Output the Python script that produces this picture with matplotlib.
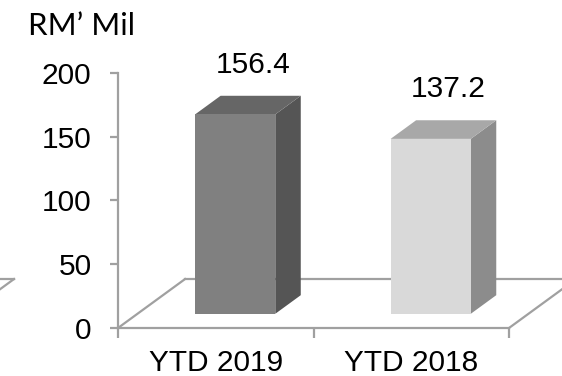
import matplotlib

matplotlib.use("Agg")
import matplotlib.pyplot as plt
from matplotlib.patches import Polygon

categories = ["YTD 2019", "YTD 2018"]
values = [156.4, 137.2]
y_ticks = [0, 50, 100, 150, 200]
unit_label = "RM\u2019 Mil"

front_colors = ["#808080", "#d9d9d9"]
side_colors = ["#555555", "#8c8c8c"]
top_colors = ["#666666", "#a8a8a8"]

# fake 3D: full floor depth expressed as a shift in data units
DEPTH_X = 0.343
DEPTH_Y = 38.4
BAR_D0, BAR_D1 = 0.29, 0.67
BAR_W = 0.41
LINE = "#a0a0a0"
FS = 21.5

plt.rcParams["font.family"] = ["Liberation Sans", "DejaVu Sans"]

fig = plt.figure(figsize=(5.62, 3.76), dpi=100)
ax = fig.add_axes([0, 0, 1, 1])
ax.set_xlim(-0.6036, 2.2711)
ax.set_ylim(-37.65, 257.25)

for side in ["top", "right"]:
    ax.spines[side].set_visible(False)
ax.spines["left"].set_position(("data", 0))
ax.spines["left"].set_bounds(0, 200)
ax.spines["bottom"].set_position(("data", 0))
ax.spines["bottom"].set_bounds(0, len(categories))
for side in ["left", "bottom"]:
    ax.spines[side].set_color(LINE)
    ax.spines[side].set_linewidth(1.6)
    ax.spines[side].set_zorder(1)

ax.set_yticks(y_ticks)
ax.tick_params(axis="y", length=6, width=1.6, color=LINE, pad=13, labelsize=FS)
ax.set_xticks(range(len(categories) + 1), [""] * (len(categories) + 1))
ax.tick_params(axis="x", which="major", length=7, width=1.6, color=LINE)
ax.set_xticks([i + 0.5 for i in range(len(categories))], categories, minor=True)
ax.tick_params(axis="x", which="minor", length=0, pad=15, labelsize=FS)

# floor outline
n = len(categories)
ax.plot([0, DEPTH_X], [0, DEPTH_Y], color=LINE, lw=1.6, zorder=1)
ax.plot([n, n + DEPTH_X], [0, DEPTH_Y], color=LINE, lw=1.6, zorder=1)
ax.plot([DEPTH_X, n + DEPTH_X + 0.2], [DEPTH_Y, DEPTH_Y], color=LINE, lw=1.6, zorder=1)

# corner of the neighbouring floor at the left edge
nb = -0.532
ax.plot([nb - DEPTH_X, nb], [0, DEPTH_Y], color=LINE, lw=1.6, zorder=1)
ax.plot([nb - 0.3, nb], [DEPTH_Y, DEPTH_Y], color=LINE, lw=1.6, zorder=1)

for i, v in enumerate(values):
    x0 = i + 0.5 - BAR_W / 2 + BAR_D0 * DEPTH_X
    x1 = x0 + BAR_W
    y0 = BAR_D0 * DEPTH_Y
    dx = (BAR_D1 - BAR_D0) * DEPTH_X
    dy = (BAR_D1 - BAR_D0) * DEPTH_Y
    y1 = y0 + v
    front = [(x0, y0), (x1, y0), (x1, y1), (x0, y1)]
    side = [(x1, y0), (x1 + dx, y0 + dy), (x1 + dx, y1 + dy), (x1, y1)]
    top = [(x0, y1), (x1, y1), (x1 + dx, y1 + dy), (x0 + dx, y1 + dy)]
    ax.add_patch(Polygon(side, closed=True, fc=side_colors[i], ec="none", zorder=3))
    ax.add_patch(Polygon(top, closed=True, fc=top_colors[i], ec="none", zorder=3))
    ax.add_patch(Polygon(front, closed=True, fc=front_colors[i], ec="none", zorder=3))
    ax.text((x0 + x1 + dx) / 2 + 0.025, v + 50, f"{v:.1f}",
            ha="center", va="center", fontsize=FS, zorder=4)

fig.text(28 / 562, 1 - 26 / 376, unit_label, ha="left", va="center",
         fontsize=22.5, family=["Lato", "DejaVu Sans"])

fig.savefig("out.png", dpi=100)
